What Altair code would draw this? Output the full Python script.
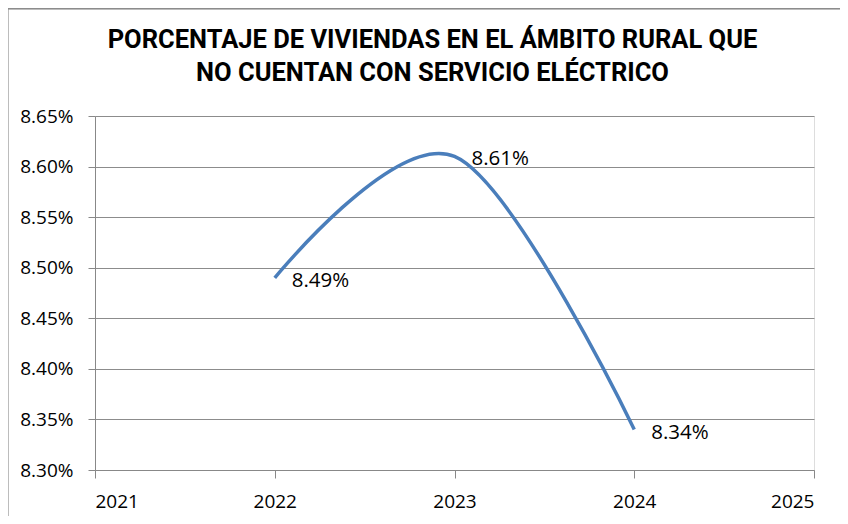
import altair as alt
import pandas as pd

years = [2022, 2023, 2024]
values = [0.0849, 0.0861, 0.0834]
labels = ["8.49%", "8.61%", "8.34%"]
y_ticks = [0.083, 0.0835, 0.084, 0.0845, 0.085, 0.0855, 0.086, 0.0865]
x_ticks = [2021, 2022, 2023, 2024, 2025]
title_lines = ["PORCENTAJE DE VIVIENDAS EN EL ÁMBITO RURAL QUE",
               "NO CUENTAN CON SERVICIO ELÉCTRICO"]

df = pd.DataFrame({"year": years, "value": values, "label": labels})

FONT = "Open Sans"

x_enc = alt.X("year:Q",
              scale=alt.Scale(domain=[2021, 2025], nice=False, zero=False),
              axis=alt.Axis(values=x_ticks, format="d", title=None, grid=False,
                            tickSize=8, labelPadding=14, labelFontSize=19,
                            labelFont=FONT, labelColor="#000000",
                            domainColor="#888888", tickColor="#888888"))
y_enc = alt.Y("value:Q",
              scale=alt.Scale(domain=[0.083, 0.0865], nice=False, zero=False),
              axis=alt.Axis(values=y_ticks, format=".2%", title=None, grid=True,
                            gridColor="#8c8c8c", gridWidth=1, gridOpacity=1,
                            tickSize=7, labelPadding=15, labelFontSize=19,
                            labelFont=FONT, labelColor="#000000",
                            domainColor="#888888", tickColor="#888888"))

line = alt.Chart(df).mark_line(
    interpolate="cardinal", color="#4A7EBB", strokeWidth=3.5
).encode(x=x_enc, y=y_enc)

text = alt.Chart(df).mark_text(
    align="left", baseline="middle", dx=17, dy=3, fontSize=20.5, font=FONT,
    color="#000000"
).encode(x="year:Q", y="value:Q", text="label:N")

border_top = alt.Chart(df).mark_rule(color="#8c8c8c", strokeWidth=1.5, clip=False).encode(
    x=alt.value(-88), x2=alt.value(760), y=alt.value(-107.5))
border_left = alt.Chart(df).mark_rule(color="#8c8c8c", strokeWidth=1.5, clip=False).encode(
    x=alt.value(-87.5), y=alt.value(-108), y2=alt.value(400))

chart = alt.layer(line, text, border_top, border_left).properties(
    width=719, height=354,
    padding={"left": 87, "top": 108, "right": 26, "bottom": 46},
    autosize=alt.AutoSizeParams(type="none"),
    title=alt.TitleParams(
        text=title_lines, font="Roboto", fontSize=25.5, fontWeight="bold",
        color="#000000", anchor="middle", dx=-22, lineHeight=33, offset=-79),
).configure_view(
    fill="#FDE9D9", stroke=None
).configure(background="#ffffff")

chart.save("out.html", embed_options={"renderer": "svg", "actions": False})
